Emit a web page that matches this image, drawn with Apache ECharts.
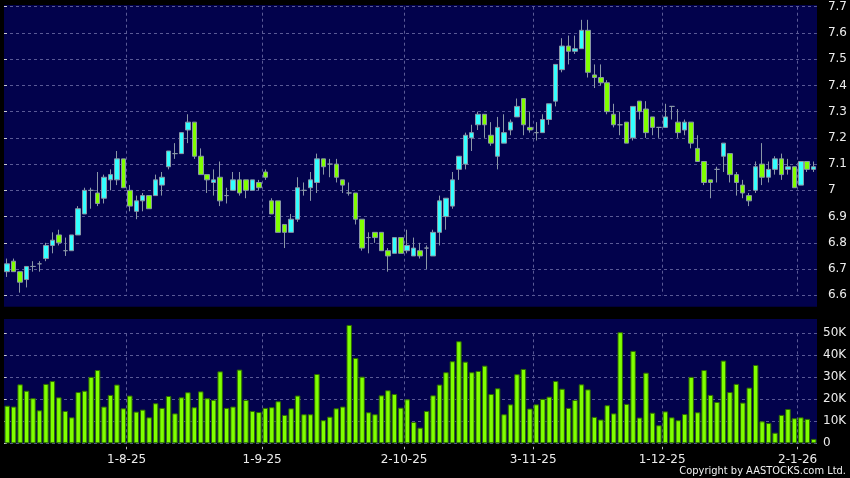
<!DOCTYPE html>
<html><head><meta charset="utf-8">
<script src="https://cdn.jsdelivr.net/npm/echarts@6/dist/echarts.min.js"></script>
<style>html,body{margin:0;padding:0;background:#000;}#c{width:850px;height:478px;}</style>
</head><body><div id="c"></div>
<script>
const opens = [6.69,6.73,6.69,6.66,6.71,6.72,6.74,6.79,6.83,6.77, 6.77,6.83,6.91,7.00,6.99,6.97,7.04,7.04,7.12,7.00,
 6.92,6.96,6.98,6.98,7.02,7.09,7.14,7.14,7.23,7.26, 7.13,7.06,7.03,7.05,6.98,7.00,7.04,7.04,7.00,7.03,
 7.07,6.96,6.96,6.87,6.84,6.89,7.00,7.01,7.03,7.12, 7.10,7.10,7.04,6.99,6.99,6.89,6.82,6.84,6.84,6.77,
 6.76,6.82,6.77,6.75,6.77,6.78,6.75,6.84,6.90,6.94, 7.08,7.10,7.20,7.25,7.29,7.21,7.13,7.18,7.23,7.28,
 7.35,7.24,7.22,7.22,7.27,7.34,7.46,7.55,7.53,7.54, 7.61,7.44,7.43,7.41,7.29,7.25,7.26,7.20,7.34,7.31,
 7.28,7.24,7.24,7.32,7.26,7.23,7.26,7.16,7.11,7.04, 7.08,7.13,7.14,7.06,7.02,6.98,7.00,7.10,7.05,7.08,
 7.12,7.08,7.09,7.02,7.11,7.08];
const closes = [6.72,6.69,6.65,6.71,6.71,6.72,6.79,6.81,6.80,6.77, 6.83,6.93,7.00,7.00,6.95,7.05,7.06,7.12,7.01,6.94,
 6.96,6.98,6.93,7.04,7.05,7.15,7.14,7.22,7.26,7.13, 7.06,7.04,7.04,6.96,6.98,7.04,6.99,7.00,7.04,7.01,
 7.05,6.91,6.84,6.84,6.89,7.01,7.00,7.04,7.12,7.09, 7.10,7.05,7.02,6.99,6.89,6.78,6.82,6.82,6.77,6.75,
 6.82,6.76,6.79,6.78,6.75,6.78,6.84,6.96,6.97,7.04, 7.13,7.21,7.22,7.29,7.25,7.18,7.24,7.22,7.26,7.32,
 7.25,7.23,7.22,7.27,7.33,7.48,7.55,7.53,7.54,7.61, 7.45,7.43,7.41,7.30,7.25,7.25,7.18,7.32,7.30,7.22,
 7.24,7.24,7.28,7.32,7.22,7.26,7.18,7.11,7.03,7.03, 7.08,7.18,7.06,7.03,6.99,6.96,7.09,7.05,7.08,7.12,
 7.06,7.09,7.01,7.11,7.08,7.09];
const lows = [6.67,6.69,6.61,6.63,6.69,6.69,6.73,6.76,6.79,6.75, 6.77,6.83,6.91,6.93,6.94,6.95,7.00,7.02,7.01,6.92,
 6.89,6.92,6.93,6.98,6.98,7.08,7.12,7.14,7.18,7.12, 7.06,6.99,6.98,6.94,6.95,7.00,6.98,6.97,7.00,7.00,
 7.04,6.91,6.84,6.78,6.84,6.88,6.98,6.96,6.99,7.06, 7.05,7.03,6.99,6.98,6.87,6.77,6.76,6.80,6.77,6.69,
 6.76,6.76,6.76,6.75,6.74,6.70,6.75,6.79,6.85,6.93, 7.04,7.08,7.15,7.23,7.20,7.17,7.08,7.18,7.21,7.28,
 7.21,7.22,7.19,7.22,7.25,7.32,7.45,7.48,7.52,7.54, 7.43,7.39,7.40,7.29,7.24,7.21,7.18,7.19,7.27,7.20,
 7.21,7.20,7.24,7.27,7.20,7.21,7.16,7.11,7.02,6.97, 7.03,7.07,7.03,6.98,6.97,6.94,6.99,7.02,7.03,7.06,
 7.04,7.06,7.01,7.02,7.07,7.07];
const highs = [6.74,6.74,6.69,6.71,6.73,6.73,6.80,6.84,6.85,6.82, 6.83,6.94,7.01,7.01,7.07,7.06,7.08,7.15,7.12,7.02,
 6.98,6.99,6.98,7.06,7.07,7.15,7.18,7.22,7.29,7.26, 7.16,7.06,7.08,7.11,7.01,7.07,7.07,7.04,7.04,7.04,
 7.08,6.97,6.96,6.87,6.91,7.05,7.03,7.07,7.14,7.12, 7.12,7.12,7.04,7.03,6.99,6.89,6.84,6.84,6.84,6.78,
 6.82,6.82,6.85,6.82,6.80,6.79,6.85,6.98,6.97,7.07, 7.13,7.22,7.25,7.30,7.29,7.26,7.28,7.29,7.27,7.35,
 7.35,7.30,7.26,7.29,7.33,7.48,7.58,7.59,7.59,7.65, 7.65,7.48,7.48,7.42,7.33,7.30,7.26,7.32,7.34,7.34,
 7.28,7.24,7.33,7.32,7.31,7.27,7.26,7.21,7.11,7.04, 7.09,7.18,7.14,7.07,7.04,6.99,7.11,7.18,7.11,7.13,
 7.14,7.12,7.09,7.11,7.11,7.11];
const volumes = [17100,16700,26800,23900,20500,15000,27000,28300,20900,14700, 11800,23300,23900,30200,33300,16700,22000,26700,15900,21700,
 14400,15300,11800,18200,16100,21500,13600,20900,23200,16400, 23600,20500,19800,32700,16100,16700,33500,19700,14700,14200,
 16100,16400,19100,12900,15900,21700,13200,13200,31500,10500, 12100,15900,16700,53800,38800,30300,14100,13200,21800,24100,
 22400,16200,20000,9700,7100,14700,21800,26700,32300,37300, 46400,37100,32300,32900,35300,22400,25000,13200,17700,31400,
 33800,15800,17700,20200,21200,28300,24800,16100,19700,26800, 24500,12000,10800,17300,13600,50500,17900,42000,11700,32100,
 13900,8200,14500,11800,10500,13300,30200,14100,33300,22000, 18800,37600,23300,27000,18500,25300,35600,10000,9200,4800,
 12900,15600,11400,11800,11100,2000];
const categories = opens.map((_, i) => i);
const tickIdx = [19, 40, 62, 82, 102, 123];
const tickLabels = ['1-8-25', '1-9-25', '2-10-25', '3-11-25', '1-12-25', '2-1-26'];

const N = opens.length;
const ohlc = opens.map((o, i) => [o, closes[i], lows[i], highs[i]]);
const navy = '#02024c';
const gl = {color: '#5a5a96', type: [3, 3], width: 1};
const font = 'DejaVu Sans';
const txt = '#ececec';

const chart = echarts.init(document.getElementById('c'), null, {renderer: 'canvas'});
chart.setOption({
  backgroundColor: '#000',
  animation: false,
  title: {text: 'Copyright by AASTOCKS.com Ltd.', right: 4, top: 466, padding: 0,
    textStyle: {color: '#f0f0f0', fontSize: 11, fontWeight: 'normal', fontFamily: 'DejaVu Sans Condensed, DejaVu Sans'}},
  grid: [
    {left: 4, right: 33, top: 5, height: 301.7, show: true, backgroundColor: navy, borderWidth: 0},
    {left: 4, right: 33, top: 6.7, height: 288.6, show: false},
    {left: 4, right: 33, top: 319, height: 124.3, show: true, backgroundColor: navy, borderWidth: 0},
    {left: 4, right: 33, top: 333.3, height: 110, show: false}
  ],
  xAxis: [
    {type: 'category', gridIndex: 1, position: 'top', data: categories, show: false},
    {type: 'value', gridIndex: 1, position: 'bottom', min: 0, max: N, axisLine: {show: false},
      axisTick: {show: false, customValues: tickIdx}, axisLabel: {show: false, customValues: tickIdx},
      splitLine: {show: true, lineStyle: gl}},
    {type: 'category', gridIndex: 3, position: 'top', data: categories, show: false},
    {type: 'value', gridIndex: 3, position: 'bottom', min: 0, max: N, offset: 3.5, axisLine: {show: false},
      axisTick: {show: true, length: 2.5, customValues: tickIdx, lineStyle: {color: '#bbbbbb'}},
      axisLabel: {show: true, customValues: tickIdx, margin: 7.5, color: txt, fontSize: 12, fontFamily: font,
        formatter: v => tickLabels[tickIdx.indexOf(v)]},
      splitLine: {show: true, lineStyle: gl}},
    {type: 'value', gridIndex: 0, show: false},
    {type: 'value', gridIndex: 2, show: false}
  ],
  yAxis: [
    {type: 'value', gridIndex: 1, position: 'right', min: 6.6, max: 7.7, interval: 0.1, offset: 3,
      axisLine: {show: false}, axisTick: {show: true, length: 3, lineStyle: {color: '#cccccc'}},
      axisLabel: {margin: 8, color: txt, fontSize: 12, fontFamily: font},
      splitLine: {show: true, lineStyle: gl}},
    {type: 'value', gridIndex: 3, position: 'right', min: 0, max: 50000, interval: 10000,
      axisLine: {show: false}, axisTick: {show: true, length: 2.5, lineStyle: {color: '#cccccc'}},
      axisLabel: {margin: 6, color: txt, fontSize: 12, fontFamily: font,
        formatter: v => v === 0 ? '0' : (v / 1000) + 'K'},
      splitLine: {show: true, lineStyle: gl}},
    {type: 'value', gridIndex: 0, show: false},
    {type: 'value', gridIndex: 2, show: false}
  ],
  series: [
    {type: 'candlestick', xAxisIndex: 0, yAxisIndex: 0, data: ohlc, barWidth: 5,
      itemStyle: {color: '#33ffff', color0: '#80ff00', borderColor: '#8a97a6', borderColor0: '#8a97a6',
        borderColorDoji: '#8a97a6', borderWidth: 1}},
    {type: 'bar', xAxisIndex: 2, yAxisIndex: 1, data: volumes, barWidth: 5.45, clip: false,
      itemStyle: {color: '#80ff00', borderColor: '#2e6b00', borderWidth: 1}}
  ]
});
</script></body></html>
